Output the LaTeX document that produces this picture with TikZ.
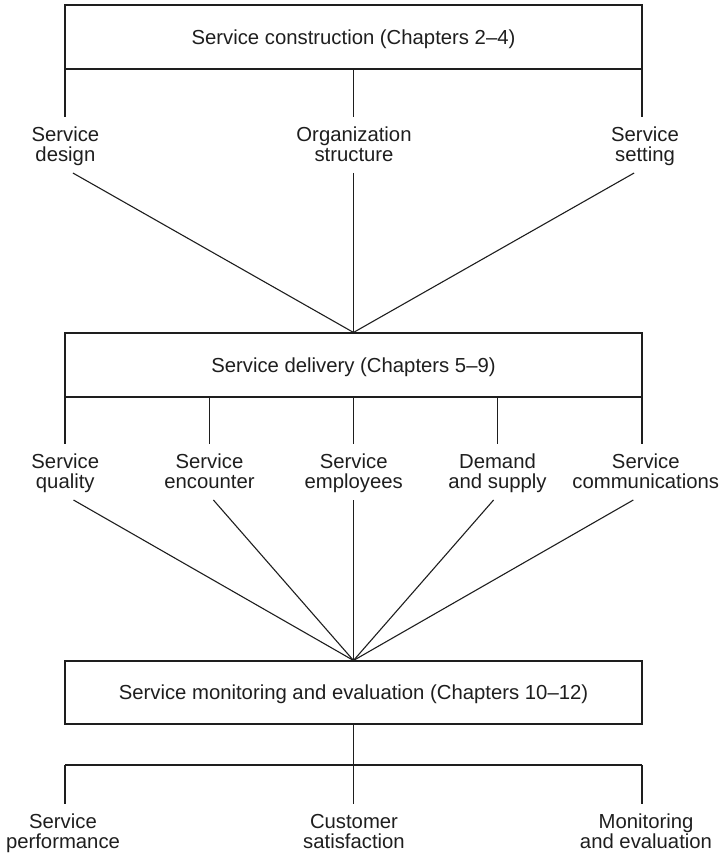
\documentclass[tikz,border=0pt]{standalone}
\usepackage{fontspec}
\setmainfont{Liberation Sans}
\usetikzlibrary{calc}
\definecolor{ink}{RGB}{30,30,30}
\begin{document}
\begin{tikzpicture}[x=1pt,y=-1pt,
  every node/.style={font=\fontsize{20.3}{20}\selectfont, text=ink},
  stage/.style={draw=ink, line width=1.1pt, minimum width=577pt, minimum height=64pt,
    inner sep=0pt, text height=14.6pt, text depth=0pt},
  topic/.style={anchor=north, align=center, inner sep=0pt},
  link/.style={draw=ink, line width=1.1pt}]
\useasboundingbox (0,0) rectangle (721,853);

% the three stages
\node[stage] (construction) at (353.5,37) {Service construction (Chapters 2--4)};
\node[stage] (delivery) at (353.5,365) {Service delivery (Chapters 5--9)};
\node[stage, minimum height=63pt] (monitoring) at (353.5,692.5)
  {Service monitoring and evaluation (Chapters 10--12)};

% construction: drops, topics, links into delivery
\coordinate (j1a) at (65,117);
\coordinate (j1b) at (353.5,117);
\coordinate (j1c) at (642,117);
\foreach \j in {j1a,j1b,j1c}
  \draw[link] (construction.south -| \j) -- (\j);

\node[topic] (design) at (65.4,127) {Service\\design};
\node[topic] (organization) at (354,127) {Organization\\structure};
\node[topic] (setting) at (645,127) {Service\\setting};

\coordinate (design-foot) at (72.9,173);
\coordinate (organization-foot) at (353.5,173);
\coordinate (setting-foot) at (634.1,173);
\foreach \f in {design-foot,organization-foot,setting-foot}
  \draw[link] (\f) -- (delivery.north);

% delivery: drops, topics, links into monitoring
\coordinate (j2a) at (65,444);
\coordinate (j2b) at (209.25,444);
\coordinate (j2c) at (353.5,444);
\coordinate (j2d) at (497.75,444);
\coordinate (j2e) at (642,444);
\foreach \j in {j2a,j2b,j2c,j2d,j2e}
  \draw[link] (delivery.south -| \j) -- (\j);

\node[topic] (quality) at (65.3,454) {Service\\quality};
\node[topic] (encounter) at (209.5,454) {Service\\encounter};
\node[topic] (employees) at (353.7,454) {Service\\employees};
\node[topic] (demand) at (497.5,454) {Demand\\and supply};
\node[topic] (communications) at (645.8,454) {Service\\communications};

\coordinate (quality-foot) at (73.5,500);
\coordinate (encounter-foot) at (213.4,500);
\coordinate (employees-foot) at (353.5,500);
\coordinate (demand-foot) at (493.6,500);
\coordinate (communications-foot) at (633.3,500);
\foreach \f in {quality-foot,encounter-foot,employees-foot,demand-foot,communications-foot}
  \draw[link] (\f) -- (monitoring.north);

% monitoring: bracket and topics
\coordinate (hub) at (353.5,765);
\coordinate (bar-left) at (65,765);
\coordinate (bar-right) at (642,765);
\draw[link] (monitoring.south) -- (hub);
\draw[link] (bar-left) -- (bar-right);
\coordinate (j3a) at (65,804);
\coordinate (j3b) at (353.5,804);
\coordinate (j3c) at (642,804);
\draw[link] (bar-left) -- (j3a);
\draw[link] (hub) -- (j3b);
\draw[link] (bar-right) -- (j3c);

\node[topic] (performance) at (63,814) {Service\\performance};
\node[topic] (satisfaction) at (354,814) {Customer\\satisfaction};
\node[topic] (evaluation) at (646,814) {Monitoring\\and evaluation};
\end{tikzpicture}
\end{document}
